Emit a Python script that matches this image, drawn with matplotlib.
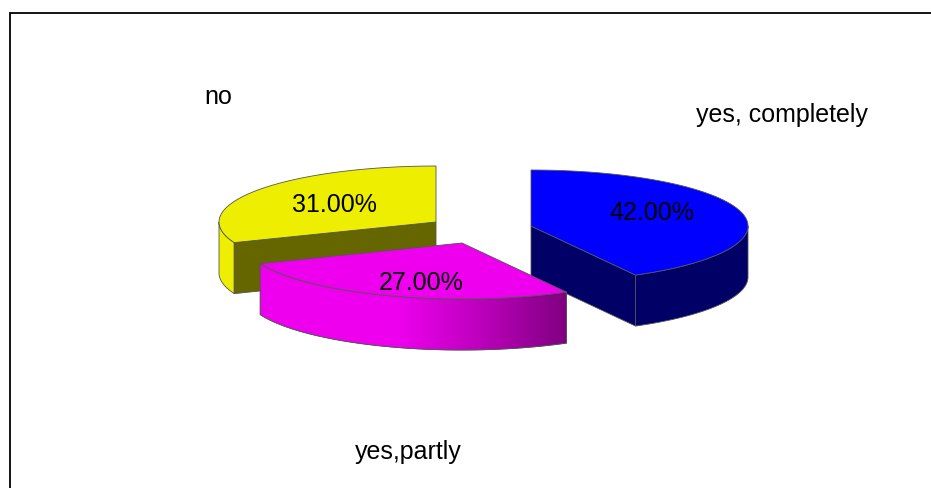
import numpy as np
import matplotlib
matplotlib.use('Agg')
import matplotlib.pyplot as plt
from matplotlib.colors import LinearSegmentedColormap
from matplotlib.patches import Polygon

# Dados do gráfico
categories = ['yes, completely', 'yes,partly', 'no']
values = [42, 27, 31]

# Cores de cada fatia
top_colors = ['#0000ff', '#ee00ee', '#eeee00']
face_colors = ['#000066', '#800080', '#666600']
rim_colors = ['#000066', '#ee00ee', '#eeee00']

# Geometria em pixels
centers = [(531, 226), (462, 243), (436, 222)]
rx, ry, depth = 217, 56, 51
label_pos = [(782, 115), (408, 452.5), (218.5, 97.5)]
pct_pos = [(652, 213.5), (421, 283.5), (334, 205.5)]
edge = '#555555'

plt.rcParams['font.family'] = ['Liberation Sans', 'DejaVu Sans']

fig = plt.figure(figsize=(9.31, 4.88), dpi=100)
ax = fig.add_axes([0, 0, 1, 1])
ax.set_xlim(0, 931)
ax.set_ylim(488, 0)
ax.axis('off')


def arc(c, a0, a1, dy=0):
    # Ângulos em graus, no sentido horário a partir do norte
    t = np.radians(np.linspace(a0, a1, 200))
    return np.column_stack([c[0] + rx * np.sin(t), c[1] - ry * np.cos(t) + dy])


shade = LinearSegmentedColormap.from_list(
    'shade', [(0, '#ee00ee'), (0.45, '#ee00ee'), (0.7, '#c000c0'), (1, '#800080')])

# Ângulos de início e fim das fatias
ends = np.cumsum(values) / np.sum(values) * 360
starts = np.r_[0, ends[:-1]]

# Ordem de desenho: amarelo, azul, magenta (a da frente por último)
for z, i in enumerate([2, 0, 1]):
    c = centers[i]
    a0, a1 = starts[i], ends[i]
    base = 10 * (z + 1)

    # Face lateral externa, só a parte visível (entre 90 e 270 graus)
    v0, v1 = max(a0, 90), min(a1, 270)
    if v1 > v0:
        upper = arc(c, v0, v1)
        lower = arc(c, v0, v1, depth)
        rim = Polygon(np.vstack([upper, lower[::-1]]), closed=True,
                      facecolor=rim_colors[i], edgecolor=edge, lw=0.6, zorder=base)
        ax.add_patch(rim)
        if i == 1:
            xmin, xmax = upper[:, 0].min(), upper[:, 0].max()
            im = ax.imshow(np.linspace(0, 1, 256)[None, :], cmap=shade, aspect='auto',
                           extent=[xmin, xmax, lower[:, 1].max() + 1, upper[:, 1].min() - 1],
                           zorder=base + 1, vmin=0, vmax=1)
            im.set_clip_path(rim)
            outline = Polygon(np.vstack([upper, lower[::-1]]), closed=True, fill=False,
                              edgecolor=edge, lw=0.6, zorder=base + 2)
            ax.add_patch(outline)

    # Face do corte, do centro até a borda
    if i != 1:
        a = a1 if i == 0 else a0
        p = arc(c, a, a)[0]
        pts = [c, p, (p[0], p[1] + depth), (c[0], c[1] + depth)]
        ax.add_patch(Polygon(pts, closed=True, facecolor=face_colors[i],
                             edgecolor=edge, lw=0.6, zorder=base + 3))

    # Tampa superior
    top = np.vstack([[c], arc(c, a0, a1)])
    ax.add_patch(Polygon(top, closed=True, facecolor=top_colors[i],
                         edgecolor=edge, lw=0.6, zorder=base + 4))

# Textos
for i, name in enumerate(categories):
    ax.text(label_pos[i][0], label_pos[i][1], name, fontsize=18, color='black',
            ha='center', va='center', zorder=50)
    ax.text(pct_pos[i][0], pct_pos[i][1], f'{values[i]:.2f}%', fontsize=18,
            color='black', ha='center', va='center', zorder=50)

# Borda da área do gráfico (só esquerda e topo aparecem)
ax.plot([10, 10, 931], [488, 12.5, 12.5], color='black', lw=1.3, zorder=60,
        solid_joinstyle='miter')

ax.set_xlim(0, 931)
ax.set_ylim(488, 0)
fig.savefig('out.png', dpi=100)
